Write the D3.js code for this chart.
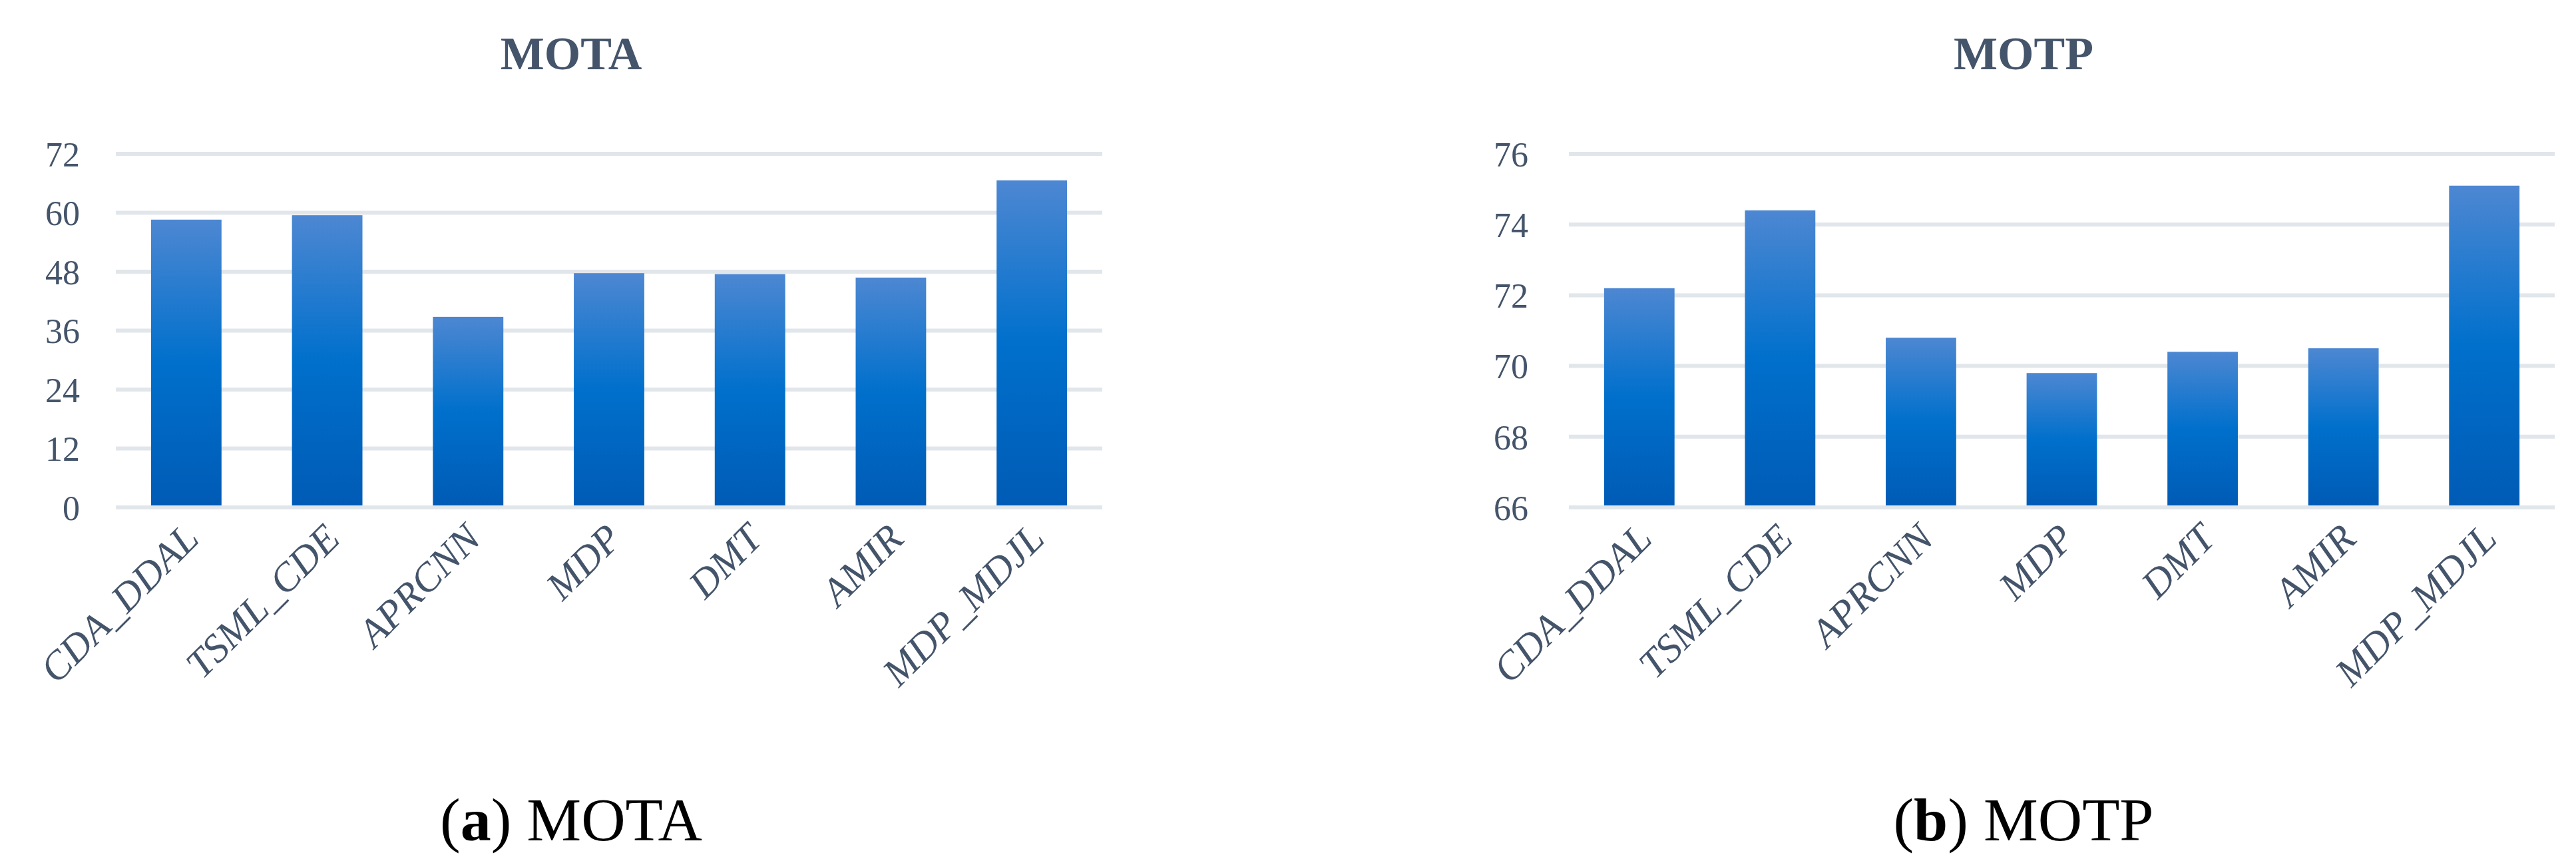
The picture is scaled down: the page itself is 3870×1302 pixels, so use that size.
<!DOCTYPE html>
<html><head><meta charset="utf-8">
<script src="https://cdn.jsdelivr.net/npm/d3@7"></script>
<style>body{margin:0;background:#fff}</style>
</head><body>
<svg id="chart" width="3870" height="1302"></svg>
<script>
const methods = ["CDA_DDAL", "TSML_CDE", "APRCNN", "MDP", "DMT", "AMIR", "MDP_MDJL"];
const motaValues = [58.6, 59.5, 38.8, 47.7, 47.5, 46.8, 66.6];
const motpValues = [72.2, 74.4, 70.8, 69.8, 70.4, 70.5, 75.1];
const motaTicks = [0, 12, 24, 36, 48, 60, 72];
const motpTicks = [66, 68, 70, 72, 74, 76];

const TEXT = "#44546a";
const svg = d3.select("#chart");

const defs = svg.append("defs");
const grad = defs.append("linearGradient").attr("id", "barGrad")
  .attr("x1", 0).attr("y1", 0).attr("x2", 0).attr("y2", 1);
grad.append("stop").attr("offset", "0%").attr("stop-color", "#4d87d2");
grad.append("stop").attr("offset", "50%").attr("stop-color", "#0070cc");
grad.append("stop").attr("offset", "100%").attr("stop-color", "#005bb5");

function panel(opt) {
  const g = svg.append("g");
  const x = d3.scaleBand().domain(methods).range([opt.x0, opt.x1]).paddingInner(0.5).paddingOuter(0.25);
  const y = d3.scaleLinear().domain(opt.domain).range([762, 231]);

  g.append("text").attr("x", opt.titleX).attr("y", 104).attr("text-anchor", "middle")
    .attr("font-family", "Liberation Serif").attr("font-weight", "bold").attr("font-size", 70)
    .attr("fill", TEXT).text(opt.title);

  g.selectAll(".grid").data(opt.ticks).join("line")
    .attr("x1", opt.x0).attr("x2", opt.x1)
    .attr("y1", d => y(d)).attr("y2", d => y(d))
    .attr("stroke", "#e1e6eb").attr("stroke-width", 6);

  g.selectAll(".tick").data(opt.ticks).join("text")
    .attr("x", opt.tickX).attr("y", d => y(d)).attr("dy", "0.36em")
    .attr("text-anchor", "end").attr("font-family", opt.tickFont)
    .attr("font-size", 52).attr("fill", TEXT).text(d => d);

  g.selectAll(".bar").data(methods).join("rect")
    .attr("x", d => x(d)).attr("width", x.bandwidth())
    .attr("y", (d, i) => y(opt.values[i]))
    .attr("height", (d, i) => y(opt.domain[0]) - 3 - y(opt.values[i]))
    .attr("fill", "url(#barGrad)");

  g.selectAll(".lab").data(methods).join("text")
    .attr("transform", d => `translate(${x(d) + x.bandwidth() / 2 + 22},${812}) rotate(-45)`)
    .attr("text-anchor", "end").attr("font-family", "Liberation Serif").attr("font-style", "italic")
    .attr("font-size", 60).attr("fill", TEXT).text(d => d);

  const cap = g.append("text").attr("x", opt.titleX).attr("y", 1262).attr("text-anchor", "middle")
    .attr("font-family", "Liberation Serif").attr("font-size", 92).attr("fill", "#000");
  cap.append("tspan").text("(");
  cap.append("tspan").attr("font-weight", "bold").text(opt.letter);
  cap.append("tspan").text(") " + opt.title);
}

panel({ x0: 174, x1: 1656, domain: [0, 72], ticks: motaTicks, values: motaValues,
  title: "MOTA", letter: "a", titleX: 858, tickX: 120, tickFont: "Liberation Sans Narrow" });
panel({ x0: 2357, x1: 3838, domain: [66, 76], ticks: motpTicks, values: motpValues,
  title: "MOTP", letter: "b", titleX: 3040, tickX: 2296, tickFont: "Liberation Serif" });
</script>
</body></html>
